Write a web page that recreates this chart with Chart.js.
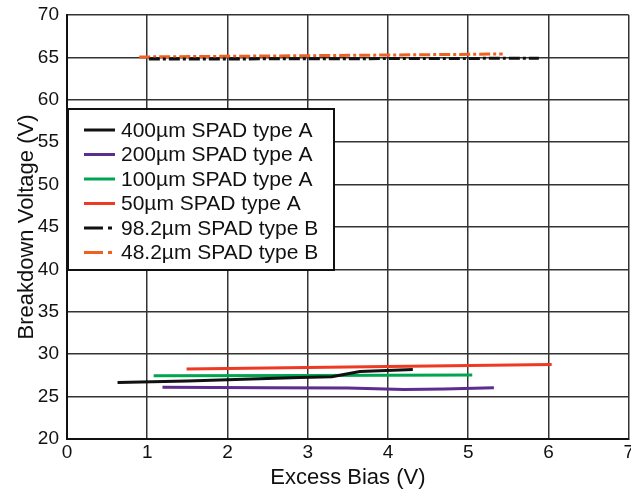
<!DOCTYPE html>
<html>
<head>
<meta charset="utf-8">
<script src="https://cdn.jsdelivr.net/npm/chart.js@4"></script>
<style>
  html, body { margin: 0; padding: 0; background: #fff; overflow: hidden; }
  #wrap { width: 631px; height: 491px; overflow: hidden; position: relative; }
</style>
</head>
<body>
<div id="wrap"><canvas id="bdChart" width="636" height="491"></canvas></div>
<script>
// series (excess bias V, breakdown voltage V)
const labels = ['400\u00b5m SPAD type A', '200\u00b5m SPAD type A', '100\u00b5m SPAD type A',
                '50\u00b5m SPAD type A', '98.2\u00b5m SPAD type B', '48.2\u00b5m SPAD type B'];

const bias400 = [0.63, 1.5, 2.9, 3.3, 3.65, 4.31];
const volt400 = [26.66, 26.85, 27.25, 27.35, 27.95, 28.2];

const bias200 = [1.19, 2.5, 3.5, 4.2, 4.7, 5.32];
const volt200 = [26.1, 26.05, 26.0, 25.85, 25.9, 26.05];

const bias100 = [1.08, 3.0, 5.05];
const volt100 = [27.45, 27.5, 27.55];

const bias50 = [1.49, 3.5, 6.04];
const volt50 = [28.25, 28.5, 28.8];

const bias98 = [1.02, 3.5, 5.88];
const volt98 = [64.8, 64.85, 64.9];

const bias48 = [0.9, 3.0, 5.43];
const volt48 = [65.05, 65.2, 65.4];

const xTicks = [0, 1, 2, 3, 4, 5, 6, 7];
const yTicks = [20, 25, 30, 35, 40, 45, 50, 55, 60, 65, 70];

function pts(xs, ys) {
    return xs.map((x, i) => ({ x: x, y: ys[i] }));
}

const colors = ['#111111', '#5b2d8e', '#00a550', '#ee3a23', '#111111', '#f06020'];
const dashes = [[], [], [], [], [11, 3, 3, 3], [11, 3, 3, 3]];
const series = [
    pts(bias400, volt400), pts(bias200, volt200), pts(bias100, volt100),
    pts(bias50, volt50), pts(bias98, volt98), pts(bias48, volt48)
];

const FONT = '"Liberation Sans", Arial, Helvetica, sans-serif';

// legend box drawn inside the plot
const boxLegend = {
    id: 'boxLegend',
    afterDatasetsDraw(chart) {
        const ctx = chart.ctx;
        const left = 68, top = 109, right = 334, bottom = 270;
        ctx.save();
        ctx.fillStyle = '#fff';
        ctx.fillRect(left, top, right - left, bottom - top);
        ctx.strokeStyle = '#111';
        ctx.lineWidth = 2;
        ctx.strokeRect(left, top, right - left, bottom - top);
        ctx.font = '21px ' + FONT;
        ctx.textBaseline = 'middle';
        chart.data.datasets.forEach((ds, i) => {
            const y = 130 + i * 24.5;
            ctx.strokeStyle = ds.borderColor;
            ctx.lineWidth = 3;
            ctx.beginPath();
            if (ds.borderDash.length) {
                ctx.moveTo(84, y); ctx.lineTo(103, y);
                ctx.moveTo(108, y); ctx.lineTo(112, y);
            } else {
                ctx.moveTo(84, y); ctx.lineTo(115, y);
            }
            ctx.stroke();
            ctx.fillStyle = '#111';
            ctx.fillText(ds.label, 121, y + 1);
        });
        ctx.restore();
    }
};

const ctx = document.getElementById('bdChart').getContext('2d');
new Chart(ctx, {
    type: 'line',
    data: {
        datasets: series.map((d, i) => ({
            label: labels[i],
            data: d,
            borderColor: colors[i],
            borderWidth: 3,
            borderDash: dashes[i],
            pointRadius: 0,
            tension: 0,
            fill: false
        }))
    },
    options: {
        responsive: false,
        animation: false,
        layout: { padding: { top: 15, left: 14, bottom: 0, right: 0 } },
        plugins: { legend: { display: false }, tooltip: { enabled: false } },
        scales: {
            x: {
                type: 'linear',
                min: 0, max: 7,
                afterBuildTicks: (axis) => { axis.ticks = xTicks.map(v => ({ value: v })); },
                afterFit: (scale) => { scale.height = 52; },
                grid: { color: '#333', lineWidth: 1.5, drawTicks: false },
                border: { color: '#111', width: 2 },
                ticks: { color: '#111', font: { family: FONT, size: 19 }, padding: 2, maxRotation: 0 },
                title: { display: true, text: 'Excess Bias (V)', color: '#111',
                         font: { family: FONT, size: 22 }, padding: { top: 0, bottom: 0 } }
            },
            y: {
                type: 'linear',
                min: 20, max: 70,
                afterBuildTicks: (axis) => { axis.ticks = yTicks.map(v => ({ value: v })); },
                afterFit: (scale) => { scale.width = 53; scale.paddingTop = 0; scale.paddingBottom = 0; },
                grid: { color: '#333', lineWidth: 1.5, drawTicks: false },
                border: { color: '#111', width: 2 },
                ticks: { color: '#111', font: { family: FONT, size: 19 }, padding: 8 },
                title: { display: true, text: 'Breakdown Voltage (V)', color: '#111',
                         font: { family: FONT, size: 22 }, padding: { top: 0, bottom: 0 } }
            }
        }
    },
    plugins: [boxLegend]
});
</script>
</body>
</html>
